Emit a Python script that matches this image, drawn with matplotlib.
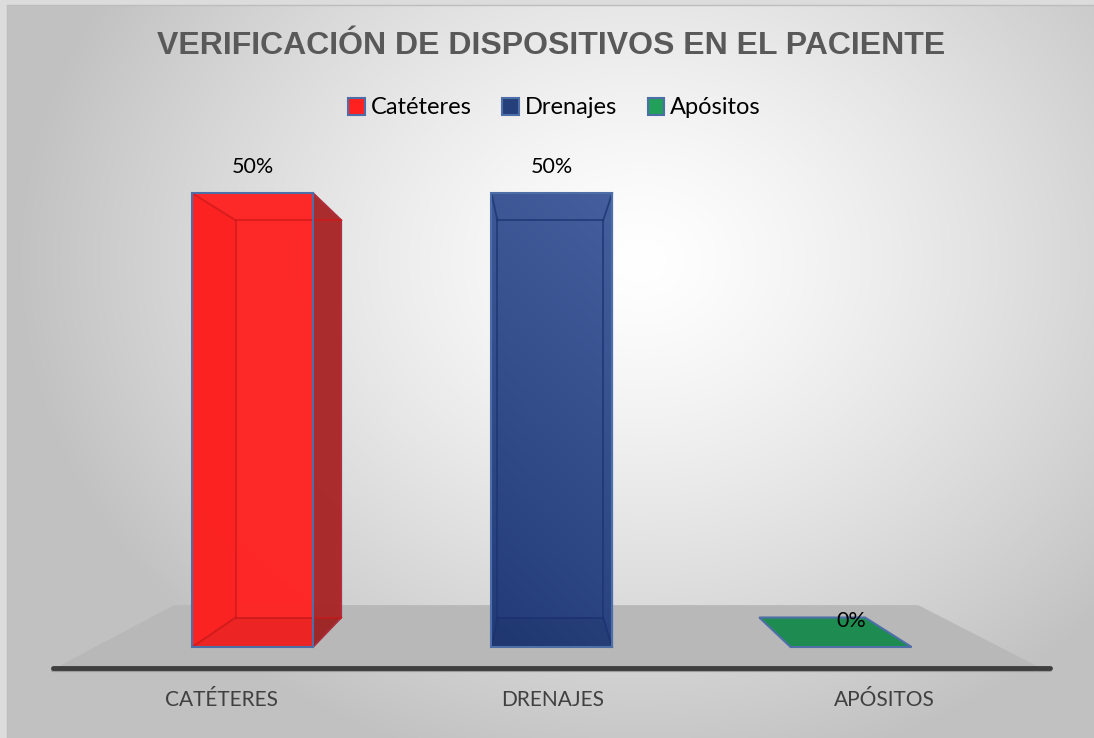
import numpy as np
import matplotlib.pyplot as plt
from matplotlib.patches import Polygon, Patch, Rectangle

# data
categories = ['CATÉTERES', 'DRENAJES', 'APÓSITOS']
series_names = ['Catéteres', 'Drenajes', 'Apósitos']
values = [50, 50, 0]
value_labels = ['50%', '50%', '0%']

title = 'VERIFICACIÓN DE DISPOSITIVOS EN EL PACIENTE'

front_colors = ['#FF2222', '#2E4A8A', '#1E8C50']
side_colors = ['#A82222', '#203A74', '#1E8C50']
legend_colors = ['#FF2020', '#253F7A', '#22A05A']
edge_col = '#4E6EA8'

# simple perspective: back plane shrinks towards a vanishing point
K = 0.125
VX, VY = 0.96, 26.0
HW = 0.202
FLOOR_Z = (-0.71, 1.42)
FLOOR_X = (-0.526, 2.497)
LABEL_Z = -0.86


def proj(x, y, z):
    f = 1 - K * z
    return VX + (x - VX) * f, VY + (y - VY) * f


fig = plt.figure(figsize=(10.94, 7.38), dpi=100)

# background radial gradient
bg = fig.add_axes([0, 0, 1, 1])
bg.set_axis_off()
yy, xx = np.mgrid[0:738, 0:1094]
r = np.sqrt(((xx - 640) / 620.0) ** 2 + ((yy - 260) / 520.0) ** 2)
shade = np.clip(1.0 - 0.24 * r ** 1.3, 0.76, 1.0)
bg.imshow(np.dstack([shade] * 3), extent=(0, 1094, 738, 0), aspect='auto')
bg.set_xlim(0, 1094)
bg.set_ylim(738, 0)
bg.add_patch(Rectangle((0, 0), 7, 738, color='#dcdcdc', lw=0))
bg.add_patch(Rectangle((0, 0), 1094, 5, color='#dcdcdc', lw=0))
bg.plot([7, 7, 1094], [738, 5, 5], color='#bdbdbd', lw=1)

ax = fig.add_axes([0, 0, 1, 1])
ax.set_axis_off()
ax.patch.set_alpha(0)
ax.set_xlim(-0.8436, 2.8116)
ax.set_ylim(-10.02, 71.26)

# floor
fl = [proj(FLOOR_X[0], 0, FLOOR_Z[0]), proj(FLOOR_X[1], 0, FLOOR_Z[0]),
      proj(FLOOR_X[1], 0, FLOOR_Z[1]), proj(FLOOR_X[0], 0, FLOOR_Z[1])]
ax.add_patch(Polygon(fl, closed=True, facecolor='#B8B8B8', edgecolor='none', zorder=1))

# axis line along the floor front edge
ax_y = fl[0][1]
ax.plot([fl[0][0] - 0.01, fl[1][0] + 0.03], [ax_y - 0.25, ax_y - 0.25],
        color='#9a9a9a', lw=3, solid_capstyle='round', zorder=2)
ax.plot([fl[0][0] - 0.01, fl[1][0] + 0.03], [ax_y, ax_y],
        color='#3f3f3f', lw=3.5, solid_capstyle='round', zorder=3)

for i, v in enumerate(values):
    x0, x1 = i - HW, i + HW
    fc, sc = front_colors[i], side_colors[i]
    if v == 0:
        quad = [proj(x0, 0, 0), proj(x1, 0, 0), proj(x1, 0, 1), proj(x0, 0, 1)]
        ax.add_patch(Polygon(quad, closed=True, facecolor=fc, edgecolor=edge_col,
                             lw=1.5, zorder=4))
    else:
        back = [proj(x0, 0, 1), proj(x1, 0, 1), proj(x1, v, 1), proj(x0, v, 1)]
        front = [proj(x0, 0, 0), proj(x1, 0, 0), proj(x1, v, 0), proj(x0, v, 0)]
        right = [proj(x1, 0, 0), proj(x1, 0, 1), proj(x1, v, 1), proj(x1, v, 0)]
        left = [proj(x0, 0, 0), proj(x0, 0, 1), proj(x0, v, 1), proj(x0, v, 0)]
        # side faces that stick out of the front face
        for face in (left, right):
            ax.add_patch(Polygon(face, closed=True, facecolor=sc, edgecolor=edge_col,
                                 lw=1.2, alpha=0.95, zorder=4))
        if i == 1:
            # gradient front face
            grad = np.linspace(0, 1, 200)[:, None] * np.ones((1, 60))
            hx = np.linspace(0, 1, 60)[None, :]
            top = np.array([0x45, 0x5F, 0x9E]) / 255.0
            bot = np.array([0x22, 0x3B, 0x78]) / 255.0
            t = np.clip(grad * 0.8 + (1 - hx) * 0.2, 0, 1)
            img = top[None, None, :] * (1 - t[..., None]) + bot[None, None, :] * t[..., None]
            poly = Polygon(front, closed=True, facecolor='none', edgecolor='none')
            ax.add_patch(poly)
            im = ax.imshow(img, extent=(x0, x1, 0, v), origin='upper', aspect='auto',
                           zorder=5)
            im.set_clip_path(poly)
            ax.set_xlim(-0.8436, 2.8116)
            ax.set_ylim(-10.02, 71.26)
            inner = '#1C3472'
        else:
            ax.add_patch(Polygon(front, closed=True, facecolor=fc, edgecolor='none',
                                 alpha=0.97, zorder=5))
            inner = '#D01A1A'
        # inner edges seen through the transparent bar
        ax.add_patch(Polygon(back, closed=True, facecolor='none', edgecolor=inner,
                             lw=1.3, alpha=0.8, zorder=6))
        for cx, cy in [(x0, 0), (x1, 0), (x0, v), (x1, v)]:
            a = proj(cx, cy, 0)
            b = proj(cx, cy, 1)
            ax.plot([a[0], b[0]], [a[1], b[1]], color=inner, lw=1.3, alpha=0.8, zorder=6)
        # shade bottom part (over the floor)
        bottom = [proj(x0, 0, 0), proj(x1, 0, 0), proj(x1, 0, 1), proj(x0, 0, 1)]
        ax.add_patch(Polygon(bottom, closed=True, facecolor='black', edgecolor='none',
                             alpha=0.06, zorder=6))
        ax.add_patch(Polygon(front, closed=True, facecolor='none', edgecolor=edge_col,
                             lw=1.5, zorder=7))
    ax.text(i, v + 2.86, value_labels[i], ha='center', va='center',
            fontsize=15.5, family='Lato', color='black', zorder=8)
    lx, _ = proj(i, 0, LABEL_Z)
    ax.text(lx, ax_y - 3.55, categories[i], ha='center', va='center',
            fontsize=15, family='Lato', color='#404040', zorder=8)

fig.text(0.504, 1 - 46 / 738, title, ha='center', va='center', fontsize=23,
         fontweight='bold', family='Liberation Sans', color='#595959')

handles = [Patch(facecolor=c, edgecolor=edge_col, lw=1.5) for c in legend_colors]
fig.legend(handles, series_names, loc='center', bbox_to_anchor=(0.507, 1 - 108 / 738),
           ncol=3, frameon=False, prop={'family': 'Lato', 'size': 17},
           handlelength=0.7, handleheight=0.7, handletextpad=0.25, columnspacing=1.3)

fig.savefig('out.png', dpi=100)
